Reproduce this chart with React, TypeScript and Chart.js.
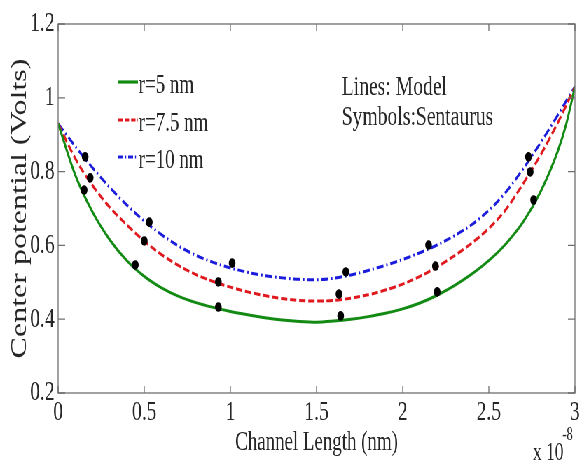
import React, { useEffect, useRef } from 'react';
import { Chart, registerables } from 'chart.js';

Chart.register(...registerables);

// ---------- data (x in units of 1e-8, potential in volts) ----------
const xModel = [0, 0.1, 0.2, 0.3, 0.4, 0.5, 0.6, 0.7, 0.8, 0.9, 1.0, 1.1, 1.2, 1.3, 1.4, 1.5, 1.6, 1.7, 1.8, 1.9, 2.0, 2.1, 2.2, 2.3, 2.4, 2.5, 2.6, 2.7, 2.8, 2.9, 2.95, 3.0];
const modelR5 = [0.93, 0.79, 0.69, 0.615, 0.558, 0.516, 0.485, 0.462, 0.445, 0.432, 0.421, 0.412, 0.404, 0.398, 0.394, 0.392, 0.395, 0.4, 0.407, 0.416, 0.428, 0.444, 0.465, 0.491, 0.522, 0.559, 0.605, 0.664, 0.745, 0.855, 0.93, 1.03];
const modelR75 = [0.93, 0.835, 0.762, 0.703, 0.655, 0.612, 0.575, 0.545, 0.521, 0.502, 0.487, 0.474, 0.464, 0.456, 0.451, 0.449, 0.451, 0.457, 0.466, 0.479, 0.495, 0.516, 0.542, 0.572, 0.606, 0.646, 0.698, 0.768, 0.845, 0.932, 0.98, 1.03];
const modelR10 = [0.93, 0.868, 0.81, 0.757, 0.709, 0.666, 0.629, 0.598, 0.573, 0.554, 0.539, 0.527, 0.518, 0.512, 0.508, 0.507, 0.511, 0.52, 0.532, 0.546, 0.562, 0.58, 0.601, 0.626, 0.656, 0.695, 0.745, 0.808, 0.878, 0.953, 0.992, 1.03];

const simX = [0.151, 0.157, 0.186, 0.448, 0.5, 0.529, 0.93, 0.93, 1.01, 1.64, 1.63, 1.67, 2.2, 2.19, 2.15, 2.76, 2.74, 2.73];
const simY = [0.75, 0.84, 0.783, 0.547, 0.612, 0.663, 0.433, 0.501, 0.552, 0.409, 0.468, 0.528, 0.474, 0.544, 0.601, 0.723, 0.799, 0.84];

const seriesLabels = ['r=5 nm', 'r=7.5 nm', 'r=10 nm'];
const seriesColors = ['#138a13', '#e0191f', '#1c1cdc'];
const seriesDash = [[], [9, 4], [10, 4, 2, 4]];

const xTicks = [0, 0.5, 1, 1.5, 2, 2.5, 3];
const xTickLabels = ['0', '0.5', '1', '1.5', '2', '2.5', '3'];
const yTicks = [0.2, 0.4, 0.6, 0.8, 1, 1.2];
const yTickLabels = ['0.2', '0.4', '0.6', '0.8', '1', '1.2'];

const xTitle = 'Channel Length (nm)';
const yTitle = 'Center potential (Volts)';
const noteLines = ['Lines: Model', 'Symbols:Sentaurus'];
const xExponentBase = 'x 10';
const xExponent = '-8';

// ---------- layout ----------
const FINAL_W = 582;
const FINAL_H = 464;
const INNER_W = 831;
const SX = FINAL_W / INNER_W;
const FONT = "'Liberation Serif', 'Times New Roman', serif";
const AXIS_COLOR = '#6f6f6f';
const TEXT_COLOR = '#262626';

const framePlugin = {
  id: 'frameAndNotes',
  afterDraw(chart: any) {
    const { ctx, chartArea, scales } = chart;
    const { left, right, top, bottom } = chartArea;
    ctx.save();
    // box
    ctx.strokeStyle = AXIS_COLOR;
    ctx.lineWidth = 1.3;
    ctx.strokeRect(left, top, right - left, bottom - top);
    // inward ticks
    const tlx = 7;
    const tly = 10;
    ctx.beginPath();
    xTicks.forEach((v) => {
      const px = scales.x.getPixelForValue(v);
      ctx.moveTo(px, bottom);
      ctx.lineTo(px, bottom - tlx);
      ctx.moveTo(px, top);
      ctx.lineTo(px, top + tlx);
    });
    yTicks.forEach((v) => {
      const py = scales.y.getPixelForValue(v);
      ctx.moveTo(left, py);
      ctx.lineTo(left + tly, py);
      ctx.moveTo(right, py);
      ctx.lineTo(right - tly, py);
    });
    ctx.stroke();

    // legend (inside plot)
    ctx.font = `27px ${FONT}`;
    ctx.textBaseline = 'alphabetic';
    ctx.textAlign = 'left';
    const lx0 = left + 86;
    const lx1 = left + 114;
    const rows = [82, 120, 157];
    seriesLabels.forEach((lab, i) => {
      const ly = rows[i];
      ctx.strokeStyle = seriesColors[i];
      ctx.lineWidth = 3.2;
      ctx.setLineDash(seriesDash[i].map((d: number) => d * 0.7));
      ctx.beginPath();
      ctx.moveTo(lx0, ly);
      ctx.lineTo(lx1, ly);
      ctx.stroke();
      ctx.setLineDash([]);
      ctx.fillStyle = TEXT_COLOR;
      ctx.fillText(lab, lx1 + 1, ly + 11);
    });

    // notes
    ctx.font = `28px ${FONT}`;
    ctx.fillStyle = TEXT_COLOR;
    ctx.fillText(noteLines[0], 488, 95);
    ctx.fillText(noteLines[1], 488, 125);

    // exponent
    ctx.font = `25px ${FONT}`;
    ctx.fillText(xExponentBase, 761, 460);
    ctx.font = `18px ${FONT}`;
    ctx.fillText(xExponent, 803, 440);
    ctx.restore();
  },
};

export default function App() {
  const canvasRef = useRef<HTMLCanvasElement | null>(null);

  useEffect(() => {
    const canvas = canvasRef.current;
    if (!canvas) return;
    const modelSets = [modelR5, modelR75, modelR10].map((ys, i) => ({
      label: seriesLabels[i],
      data: xModel.map((x, k) => ({ x, y: ys[k] })),
      showLine: true,
      borderColor: seriesColors[i],
      backgroundColor: seriesColors[i],
      borderWidth: 3,
      borderDash: seriesDash[i],
      pointRadius: 0,
      cubicInterpolationMode: 'monotone' as const,
      fill: false,
    }));
    const chart = new Chart(canvas, {
      type: 'scatter',
      data: {
        datasets: [
          {
            label: 'Sentaurus',
            data: simX.map((x, k) => ({ x, y: simY[k] })),
            showLine: false,
            pointRadius: 4.8,
            pointBackgroundColor: '#000',
            pointBorderColor: '#000',
            pointBorderWidth: 0,
          },
          ...modelSets,
        ],
      },
      options: {
        responsive: false,
        animation: false,
        devicePixelRatio: 1,
        layout: { padding: { top: 24, right: 10, left: 0, bottom: 0 } },
        plugins: { legend: { display: false }, tooltip: { enabled: false } },
        scales: {
          x: {
            type: 'linear',
            min: 0,
            max: 3,
            afterFit: (s: any) => { s.height = 71; },
            afterBuildTicks: (s: any) => { s.ticks = xTicks.map((v) => ({ value: v })); },
            ticks: {
              callback: (v: any) => xTickLabels[xTicks.indexOf(Number(v))] ?? '',
              font: { family: FONT, size: 28 },
              color: TEXT_COLOR,
              padding: 3,
              maxRotation: 0,
              autoSkip: false,
            },
            grid: { display: false, drawTicks: false },
            border: { display: false },
            title: {
              display: true,
              text: xTitle,
              font: { family: FONT, size: 27 },
              color: TEXT_COLOR,
              padding: { top: 0, bottom: 5 },
            },
          },
          y: {
            type: 'linear',
            min: 0.2,
            max: 1.2,
            afterFit: (s: any) => { s.width = 83; },
            afterBuildTicks: (s: any) => { s.ticks = yTicks.map((v) => ({ value: v })); },
            ticks: {
              callback: (v: any) => yTickLabels[yTicks.indexOf(Number(v))] ?? '',
              font: { family: FONT, size: 28 },
              color: TEXT_COLOR,
              padding: 5,
              autoSkip: false,
            },
            grid: { display: false, drawTicks: false },
            border: { display: false },
            title: {
              display: true,
              text: yTitle,
              font: { family: FONT, size: 32 },
              color: TEXT_COLOR,
              padding: { top: 9, bottom: 0 },
            },
          },
        },
      },
      plugins: [framePlugin],
    });
    return () => chart.destroy();
  }, []);

  return (
    <div
      style={{
        position: 'fixed',
        left: 0,
        top: 0,
        width: INNER_W,
        height: FINAL_H,
        transform: `scaleX(${SX})`,
        transformOrigin: '0 0',
        background: '#fff',
      }}
    >
      <canvas ref={canvasRef} width={INNER_W} height={FINAL_H} style={{ width: INNER_W, height: FINAL_H, display: 'block' }} />
    </div>
  );
}
